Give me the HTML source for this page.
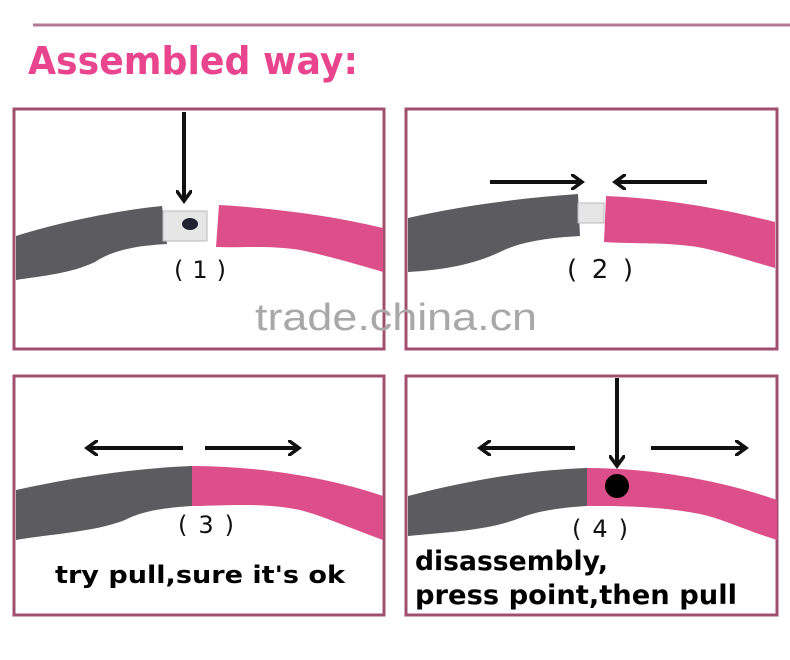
<!DOCTYPE html>
<html><head><meta charset="utf-8"><style>
body{margin:0;background:#fff;}
svg{display:block}
text{font-family:"DejaVu Sans","Liberation Sans",sans-serif}
</style></head><body>
<svg width="790" height="660" viewBox="0 0 790 660" xmlns="http://www.w3.org/2000/svg">
<defs>
<marker id="ah" markerWidth="16" markerHeight="16" refX="10" refY="8" orient="auto" markerUnits="userSpaceOnUse">
<path d="M0,0 L11,8 L0,16" fill="none" stroke="#111" stroke-width="3.5"/>
</marker>
</defs>
<line x1="33" y1="25" x2="790" y2="25" stroke="#b47896" stroke-width="3"/>
<text x="28" y="74" font-size="38" font-weight="bold" fill="#e8458e" textLength="330" lengthAdjust="spacingAndGlyphs">Assembled way:</text>

<g fill="none" stroke="#a0506e" stroke-width="3">
<rect x="14" y="109" width="370" height="240"/>
<rect x="406" y="109" width="371" height="240"/>
<rect x="14" y="376" width="370" height="239"/>
<rect x="406" y="376" width="371" height="239"/>
</g>

<!-- panel 1 -->
<path d="M16,236 C60,222 120,210 162,206 L167,244 C130,246 110,252 95,262 C70,274 40,276 16,280 Z" fill="#5b5b60"/>
<rect x="163" y="211" width="44" height="30" fill="#e6e6e6" stroke="#bbb"/>
<ellipse cx="190" cy="224" rx="8" ry="6" fill="#223"/>
<path d="M219,205 C270,208 330,215 383,228 L383,272 C350,262 320,254 300,250 C270,245 240,248 216,247 Z" fill="#dd4f8a"/>
<line x1="184" y1="112" x2="184" y2="200" stroke="#111" stroke-width="4" marker-end="url(#ah)"/>
<text x="174" y="278" font-size="24" fill="#111" textLength="52" lengthAdjust="spacing">( 1 )</text>

<!-- panel 2 -->
<path d="M408,218 C460,206 520,198 578,194 L580,236 C545,238 520,242 500,252 C470,266 440,270 408,272 Z" fill="#5b5b60"/>
<rect x="578" y="203" width="26" height="20" fill="#e6e6e6" stroke="#bbb"/>
<path d="M606,196 C660,198 720,208 775,222 L775,268 C740,258 710,248 690,246 C660,242 630,244 604,242 Z" fill="#dd4f8a"/>
<line x1="490" y1="182" x2="581" y2="182" stroke="#111" stroke-width="4" marker-end="url(#ah)"/>
<line x1="707" y1="182" x2="616" y2="182" stroke="#111" stroke-width="4" marker-end="url(#ah)"/>
<text x="567" y="278" font-size="26" fill="#111" textLength="66" lengthAdjust="spacing">( 2 )</text>

<text x="255" y="330" font-size="38" fill="#a8a8a8" textLength="282" lengthAdjust="spacingAndGlyphs" style="font-family:'Liberation Sans',sans-serif">trade.china.cn</text>

<!-- panel 3 -->
<path d="M16,490 C80,476 140,468 192,466 L192,506 C160,508 140,512 125,520 C95,532 50,534 16,540 Z" fill="#5b5b60"/>
<path d="M192,466 C260,466 330,478 383,496 L383,540 C350,528 320,515 300,510 C260,502 220,506 192,506 Z" fill="#dd4f8a"/>
<line x1="183" y1="448" x2="88" y2="448" stroke="#111" stroke-width="4" marker-end="url(#ah)"/>
<line x1="205" y1="448" x2="298" y2="448" stroke="#111" stroke-width="4" marker-end="url(#ah)"/>
<text x="178" y="533" font-size="24" fill="#111" textLength="56" lengthAdjust="spacing">( 3 )</text>
<text x="55" y="583" font-size="24" font-weight="bold" fill="#000" textLength="290" lengthAdjust="spacingAndGlyphs">try pull,sure it's ok</text>

<!-- panel 4 -->
<path d="M408,496 C470,480 530,470 587,468 L587,506 C555,508 535,512 520,518 C490,530 450,532 408,536 Z" fill="#5b5b60"/>
<path d="M587,468 C650,468 720,480 777,500 L777,540 C745,530 720,518 700,514 C660,506 620,506 587,506 Z" fill="#dd4f8a"/>
<circle cx="617" cy="486" r="12" fill="#000"/>
<line x1="617" y1="378" x2="617" y2="465" stroke="#111" stroke-width="4" marker-end="url(#ah)"/>
<line x1="575" y1="448" x2="481" y2="448" stroke="#111" stroke-width="4" marker-end="url(#ah)"/>
<line x1="651" y1="448" x2="745" y2="448" stroke="#111" stroke-width="4" marker-end="url(#ah)"/>
<text x="572" y="537" font-size="24" fill="#111" textLength="56" lengthAdjust="spacing">( 4 )</text>
<text x="415" y="570" font-size="27" font-weight="bold" fill="#000" textLength="193" lengthAdjust="spacingAndGlyphs">disassembly,</text>
<text x="415" y="604" font-size="27" font-weight="bold" fill="#000" textLength="322" lengthAdjust="spacingAndGlyphs">press point,then pull</text>
</svg>
</body></html>
